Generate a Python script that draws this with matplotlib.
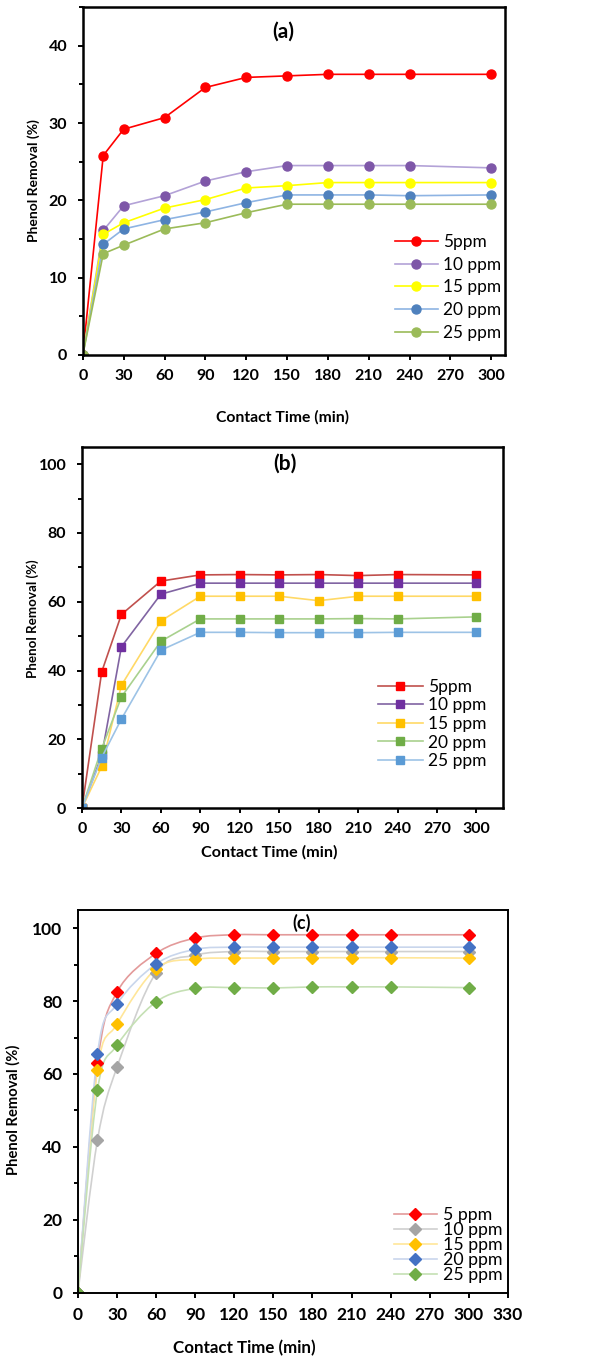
import matplotlib
matplotlib.use("Agg")
import matplotlib.pyplot as plt
import numpy as np
from matplotlib.path import Path
from matplotlib.patches import PathPatch
from matplotlib.ticker import MultipleLocator

plt.rcParams['font.family'] = ['Lato', 'DejaVu Sans']

# contact time (min)
time = [0, 15, 30, 60, 90, 120, 150, 180, 210, 240, 300]

# panel (a)
labels_a = ['5ppm', '10 ppm', '15 ppm', '20 ppm', '25 ppm']
a_5 = [0, 25.8, 29.2, 30.7, 34.6, 35.9, 36.1, 36.3, 36.3, 36.3, 36.3]
a_10 = [0, 16.1, 19.3, 20.6, 22.5, 23.7, 24.5, 24.5, 24.5, 24.5, 24.2]
a_15 = [0, 15.6, 17.1, 19.0, 20.1, 21.6, 21.9, 22.3, 22.3, 22.3, 22.3]
a_20 = [0, 14.3, 16.3, 17.5, 18.5, 19.7, 20.7, 20.7, 20.7, 20.6, 20.7]
a_25 = [0, 13.1, 14.2, 16.3, 17.1, 18.4, 19.5, 19.5, 19.5, 19.5, 19.5]

# panel (b)
labels_b = ['5ppm', '10 ppm', '15 ppm', '20 ppm', '25 ppm']
b_5 = [0, 39.6, 56.3, 66.0, 67.8, 67.9, 67.8, 67.9, 67.6, 67.9, 67.8]
b_10 = [0, 15.3, 46.9, 62.2, 65.4, 65.4, 65.4, 65.4, 65.4, 65.4, 65.4]
b_15 = [0, 12.1, 35.7, 54.4, 61.6, 61.6, 61.6, 60.3, 61.6, 61.6, 61.6]
b_20 = [0, 17.3, 32.3, 48.5, 55.0, 55.0, 55.0, 55.0, 55.1, 55.0, 55.6]
b_25 = [0, 14.7, 25.9, 45.9, 51.1, 51.1, 51.0, 51.0, 51.0, 51.1, 51.1]

# panel (c)
labels_c = ['5 ppm', '10 ppm', '15 ppm', '20 ppm', '25 ppm']
c_5 = [0, 62.9, 82.5, 93.1, 97.3, 98.2, 98.2, 98.2, 98.2, 98.2, 98.2]
c_10 = [0, 41.9, 61.9, 87.8, 92.6, 93.6, 93.6, 93.6, 93.6, 93.6, 93.6]
c_15 = [0, 61.1, 73.7, 88.9, 91.5, 91.8, 91.8, 91.9, 91.9, 91.9, 91.8]
c_20 = [0, 65.5, 79.2, 90.2, 94.2, 94.8, 94.8, 94.8, 94.8, 94.8, 94.8]
c_25 = [0, 55.6, 67.9, 79.8, 83.5, 83.7, 83.6, 83.9, 83.9, 83.9, 83.7]

fig = plt.figure(figsize=(6.09, 13.59), dpi=100)


def style_axes(ax, tsize, spw):
    for s in ax.spines.values():
        s.set_linewidth(spw)
        s.set_color('black')
    ax.tick_params(which='both', direction='out', width=1.4, labelsize=tsize)
    ax.tick_params(which='major', length=3.8)
    ax.tick_params(which='minor', length=3.2)
    ax.tick_params(axis='x', pad=6.5)
    ax.tick_params(axis='y', pad=7.5)
    for t in ax.get_xticklabels() + ax.get_yticklabels():
        t.set_fontweight('bold')


def smooth_line(ax, x, y, color, lw):
    # Excel-like smoothed line (Catmull-Rom as cubic Bezier segments)
    x = np.asarray(x, float)
    y = np.asarray(y, float)
    n = len(x)
    verts = [(x[0], y[0])]
    codes = [Path.MOVETO]
    for i in range(n - 1):
        i0 = max(i - 1, 0)
        i3 = min(i + 2, n - 1)
        c1 = (x[i] + (x[i + 1] - x[i0]) / 6, y[i] + (y[i + 1] - y[i0]) / 6)
        c2 = (x[i + 1] - (x[i3] - x[i]) / 6, y[i + 1] - (y[i3] - y[i]) / 6)
        verts += [c1, c2, (x[i + 1], y[i + 1])]
        codes += [Path.CURVE4] * 3
    ax.add_patch(PathPatch(Path(verts, codes), facecolor='none', edgecolor=color, lw=lw))


# ---------- (a) ----------
ax1 = fig.add_axes([0.136, 0.7388, 0.693, 0.256])
series_a = [a_5, a_10, a_15, a_20, a_25]
mk_a = ['#ff0000', '#7e57a8', '#ffff00', '#4f81bd', '#9bbb59']
ln_a = ['#ff0000', '#b3a2d7', '#ffff00', '#8eb4e3', '#9bbb59']
for ys, lab, mc, lc in zip(series_a, labels_a, mk_a, ln_a):
    ax1.plot(time, ys, color=lc, lw=1.2, marker='o', ms=6.5, mfc=mc, mec=mc, label=lab)
ax1.set_xlim(0, 310)
ax1.set_ylim(0, 45)
ax1.set_xticks(np.arange(0, 301, 30))
ax1.set_yticks([0, 10, 20, 30, 40])
ax1.yaxis.set_minor_locator(MultipleLocator(5))
style_axes(ax1, 11.5, 1.8)
ax1.set_ylabel('Phenol Removal (%)', fontsize=10, fontweight='bold')
ax1.yaxis.set_label_coords(-0.102, 0.5)
ax1.set_xlabel('Contact Time (min)', fontsize=11.3, fontweight='bold')
ax1.xaxis.set_label_coords(0.474, -0.158)
ax1.text(0.476, 0.928, '(a)', transform=ax1.transAxes, ha='center', va='center',
         fontsize=15, fontweight='bold')
ax1.legend(loc='center left', bbox_to_anchor=(0.739, 0.194), frameon=False,
           fontsize=12.4, borderpad=0, borderaxespad=0, labelspacing=0.4,
           handlelength=2.5, handletextpad=0.3)

# ---------- (b) ----------
ax2 = fig.add_axes([0.1346, 0.4054, 0.691, 0.2657])
series_b = [b_5, b_10, b_15, b_20, b_25]
mk_b = ['#ff0000', '#7030a0', '#ffc000', '#70ad47', '#5b9bd5']
ln_b = ['#c0504d', '#8064a2', '#ffd966', '#a9d18e', '#9dc3e6']
for ys, lab, mc, lc in zip(series_b, labels_b, mk_b, ln_b):
    ax2.plot(time, ys, color=lc, lw=1.2, marker='s', ms=6, mfc=mc, mec=mc, label=lab)
ax2.set_xlim(0, 320)
ax2.set_ylim(0, 105)
ax2.set_xticks(np.arange(0, 301, 30))
ax2.set_yticks([0, 20, 40, 60, 80, 100])
ax2.yaxis.set_minor_locator(MultipleLocator(10))
style_axes(ax2, 11.5, 1.8)
ax2.set_ylabel('Phenol Removal (%)', fontsize=9.6, fontweight='bold')
ax2.yaxis.set_label_coords(-0.102, 0.524)
ax2.set_xlabel('Contact Time (min)', fontsize=11.6, fontweight='bold')
ax2.xaxis.set_label_coords(0.444, -0.1025)
ax2.text(0.482, 0.953, '(b)', transform=ax2.transAxes, ha='center', va='center',
         fontsize=15, fontweight='bold')
ax2.legend(loc='center left', bbox_to_anchor=(0.703, 0.233), frameon=False,
           fontsize=12.5, borderpad=0, borderaxespad=0, labelspacing=0.15,
           handlelength=2.6, handletextpad=0.3)

# ---------- (c) ----------
ax3 = fig.add_axes([0.128, 0.0488, 0.706, 0.2816])
series_c = [c_5, c_10, c_15, c_20, c_25]
mk_c = ['#ff0000', '#a5a5a5', '#ffc000', '#4472c4', '#70ad47']
ln_c = ['#e39a9a', '#d0d0d0', '#ffe699', '#c9d6ec', '#c5e0b4']
for ys, lab, mc, lc in zip(series_c, labels_c, mk_c, ln_c):
    smooth_line(ax3, time, ys, lc, 1.2)
    ax3.plot(time, ys, ls='none', marker='D', ms=6, mfc=mc, mec=mc)
    ax3.plot([], [], color=lc, lw=1.2, marker='D', ms=6, mfc=mc, mec=mc, label=lab)
ax3.set_xlim(0, 330)
ax3.set_ylim(0, 105)
ax3.set_xticks(np.arange(0, 331, 30))
ax3.set_yticks([0, 20, 40, 60, 80, 100])
ax3.yaxis.set_minor_locator(MultipleLocator(10))
style_axes(ax3, 12.5, 1.4)
ax3.set_ylabel('Phenol Removal (%)', fontsize=10.6, fontweight='bold')
ax3.yaxis.set_label_coords(-0.1326, 0.477)
ax3.set_xlabel('Contact Time (min)', fontsize=12.2, fontweight='bold')
ax3.xaxis.set_label_coords(0.388, -0.124)
ax3.text(0.521, 0.966, '(c)', transform=ax3.transAxes, ha='center', va='center',
         fontsize=13, fontweight='bold')
ax3.legend(loc='center left', bbox_to_anchor=(0.735, 0.1246), frameon=False,
           fontsize=12.8, borderpad=0, borderaxespad=0, labelspacing=-0.05,
           handlelength=2.4, handletextpad=0.35)

fig.savefig('out.png', dpi=100)
